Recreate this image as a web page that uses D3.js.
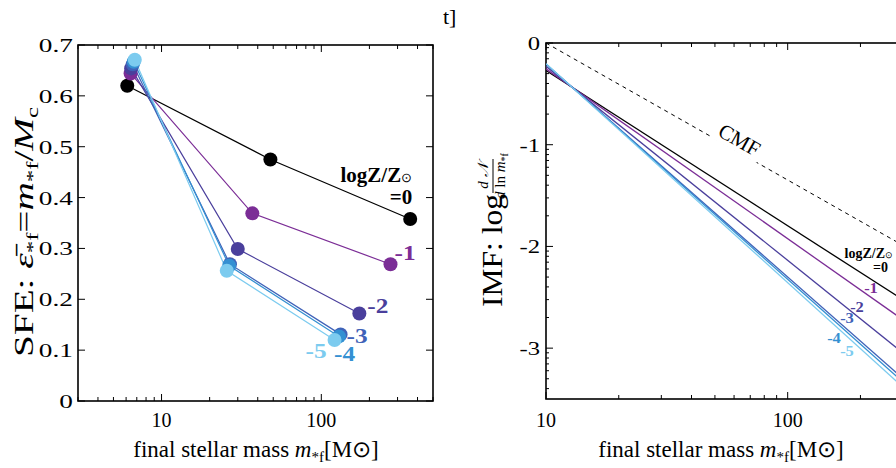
<!DOCTYPE html>
<html><head><meta charset="utf-8">
<script src="https://cdn.jsdelivr.net/npm/d3@7"></script>
<style>
body{margin:0;background:#fff}
text{font-family:"Liberation Serif","Times New Roman",serif;fill:#000}
</style>
</head><body>
<svg id="c" width="896" height="468"></svg>
<script>
// ---------- data ----------
const metallicities = ["0", "-1", "-2", "-3", "-4", "-5"];
const seriesColors = ["#000000", "#7b2d96", "#4a3f9c", "#3f62b8", "#3490d2", "#7ccbef"];
// left panel: final stellar mass [Msun] and star formation efficiency
const sfeMass = [
  [6.1, 48, 360],
  [6.4, 37, 271],
  [6.45, 30, 173],
  [6.6, 26.8, 132],
  [6.7, 26.5, 129],
  [6.8, 25.6, 121]
];
const sfeValue = [
  [0.620, 0.475, 0.358],
  [0.644, 0.369, 0.269],
  [0.654, 0.299, 0.172],
  [0.662, 0.269, 0.131],
  [0.667, 0.266, 0.127],
  [0.671, 0.256, 0.120]
];
// right panel: IMF log(dN/dln m) at the two ends of the mass range
const imfMass = [10, 300];
const imfValue = [
  [-0.270, -2.525],
  [-0.254, -2.721],
  [-0.229, -3.047],
  [-0.209, -3.299],
  [-0.206, -3.333],
  [-0.203, -3.384]
];
const cmfValue = [0, -1.99];
const sfeTicks = [0, 0.1, 0.2, 0.3, 0.4, 0.5, 0.6, 0.7];
const sfeTickLabels = ["0", "0.1", "0.2", "0.3", "0.4", "0.5", "0.6", "0.7"];
const imfTicks = [0, -1, -2, -3];
const imfTickLabels = ["0", "-1", "-2", "-3"];
const massTicks = [10, 100];
const massTickLabels = ["10", "100"];

// ---------- setup ----------
const svg = d3.select("#c");
const L = {x0: 78, x1: 433, y0: 45, y1: 401};
const R = {x0: 546, x1: 903, y0: 43, y1: 399};

const xL = d3.scaleLog().domain([3, 500]).range([L.x0, L.x1]);
const yL = d3.scaleLinear().domain([0, 0.7]).range([L.y1, L.y0]);
const xR = d3.scaleLog().domain([10, 300]).range([R.x0, R.x1]);
const yR = d3.scaleLinear().domain([-3.5, 0]).range([R.y1, R.y0]);

function minorLog(domain) {
  const out = [];
  for (let e = -2; e < 4; e++) for (let k = 1; k < 10; k++) {
    const v = k * Math.pow(10, e);
    if (v >= domain[0] - 1e-9 && v <= domain[1] + 1e-9) out.push(v);
  }
  return out;
}

function frame(P, xs, ys, xMajor, xMinor, yMajor, yMinor) {
  const g = svg.append("g");
  const xt = [...xMinor.map(v => [v, 4]), ...xMajor.map(v => [v, 7])];
  xt.forEach(([v, len]) => {
    const x = xs(v);
    g.append("line").attr("x1", x).attr("x2", x).attr("y1", P.y1).attr("y2", P.y1 - len)
      .attr("stroke", "#000").attr("stroke-width", 1);
    g.append("line").attr("x1", x).attr("x2", x).attr("y1", P.y0).attr("y2", P.y0 + len)
      .attr("stroke", "#000").attr("stroke-width", 1);
  });
  const yt = [...yMinor.map(v => [v, 3]), ...yMajor.map(v => [v, 7])];
  yt.forEach(([v, len]) => {
    const y = ys(v);
    g.append("line").attr("x1", P.x0).attr("x2", P.x0 + len).attr("y1", y).attr("y2", y)
      .attr("stroke", "#000").attr("stroke-width", 1);
    g.append("line").attr("x1", P.x1).attr("x2", P.x1 - len).attr("y1", y).attr("y2", y)
      .attr("stroke", "#000").attr("stroke-width", 1);
  });
  g.append("rect").attr("x", P.x0).attr("y", P.y0).attr("width", P.x1 - P.x0).attr("height", P.y1 - P.y0)
    .attr("fill", "none").attr("stroke", "#000").attr("stroke-width", 1.6);
}

function wideLabel(x, y, txt, size, sx) {
  svg.append("text").attr("transform", `translate(${x},${y}) scale(${sx},1)`)
    .attr("text-anchor", "end").attr("font-size", size).text(txt);
}

// rotated title whose on-screen extent (bottom..top) is fitted by measuring the rendered box
function rotatedTitle(cx, yBottom, yTop, build) {
  const g = svg.append("g");
  const t = g.append("text").attr("text-anchor", "start");
  build(t);
  let s = 1;
  const apply = () => g.attr("transform", `translate(${cx},${yBottom}) rotate(-90) scale(${s},1)`);
  for (let k = 0; k < 3; k++) {
    apply();
    const r = g.node().getBoundingClientRect();
    const h = r.height;
    s *= (yBottom - yTop) / h;
    apply();
    const r2 = g.node().getBoundingClientRect();
    // shift so bottom edge lands at yBottom
    const off = r2.bottom - yBottom;
    g.attr("transform", `translate(${cx},${yBottom - off}) rotate(-90) scale(${s},1)`);
    if (k === 2) break;
  }
  return g;
}

// ---------- left panel ----------
const xLMinor = minorLog([3, 500]).filter(v => v !== 10 && v !== 100);
frame(L, xL, yL, massTicks, xLMinor, sfeTicks, []);

sfeTicks.forEach((v, i) => wideLabel(L.x0 - 5, yL(v) + 7, sfeTickLabels[i], 19.5, 1.4));
massTicks.forEach((v, i) => {
  svg.append("text").attr("x", xL(v)).attr("y", 427).attr("text-anchor", "middle")
    .attr("font-size", 20).text(massTickLabels[i]);
});

const lineGen = (xs, ys) => d3.line().x(d => xs(d[0])).y(d => ys(d[1]));
metallicities.forEach((z, i) => {
  const pts = sfeMass[i].map((m, j) => [m, sfeValue[i][j]]);
  svg.append("path").datum(pts).attr("d", lineGen(xL, yL)).attr("fill", "none")
    .attr("stroke", seriesColors[i]).attr("stroke-width", 1.2);
});
metallicities.forEach((z, i) => {
  sfeMass[i].forEach((m, j) => {
    svg.append("circle").attr("cx", xL(m)).attr("cy", yL(sfeValue[i][j])).attr("r", 7)
      .attr("fill", seriesColors[i]);
  });
});

function lastPt(i) { return [xL(sfeMass[i][2]), yL(sfeValue[i][2])]; }
{
  const [x0, y0] = lastPt(0);
  const t = svg.append("text").attr("x", x0 + 2).attr("y", y0 - 37).attr("text-anchor", "end")
    .attr("font-size", 21).attr("font-weight", "bold");
  t.append("tspan").text("logZ/Z");
  t.append("tspan").attr("font-size", 13).attr("font-weight", "normal").text("⊙");
  svg.append("text").attr("x", x0 + 2).attr("y", y0 - 15).attr("text-anchor", "end")
    .attr("font-size", 21).attr("font-weight", "bold").text("=0");
}
const leftLabelOffsets = [null, [4, -4, "start"], [8, -1, "start"], [6, 9, "start"], [-5, 25, "start"], [-8, 18, "end"]];
metallicities.forEach((z, i) => {
  if (i === 0) return;
  const [x0, y0] = lastPt(i);
  const o = leftLabelOffsets[i];
  svg.append("text").attr("transform", `translate(${x0 + o[0]},${y0 + o[1]}) scale(1.15,1)`)
    .attr("text-anchor", o[2])
    .attr("font-size", 22).attr("font-weight", "bold").style("fill", seriesColors[i]).text(z);
});

// left y title
rotatedTitle(33, 357, 107, t => {
  t.attr("font-size", 27);
  t.append("tspan").text("SFE: ");
  t.append("tspan").attr("font-style", "italic").text("ε\u0304");
  t.append("tspan").attr("font-size", 17).attr("dy", 5).text("*f");
  t.append("tspan").attr("dy", -5).text("=");
  t.append("tspan").attr("font-style", "italic").text("m");
  t.append("tspan").attr("font-size", 17).attr("dy", 5).text("*f");
  t.append("tspan").attr("dy", -5).text("/");
  t.append("tspan").attr("font-style", "italic").text("M");
  t.append("tspan").attr("font-size", 17).attr("dy", 5).text("c");
});

function massTitle(cx) {
  const t = svg.append("text").attr("x", cx).attr("y", 457).attr("text-anchor", "middle").attr("font-size", 23);
  t.append("tspan").text("final stellar mass ");
  t.append("tspan").attr("font-style", "italic").text("m");
  t.append("tspan").attr("font-size", 15).attr("dy", 5).text("*f");
  t.append("tspan").attr("dy", -5).text("[M⊙]");
}
massTitle(256);

// ---------- right panel ----------
svg.append("defs").append("clipPath").attr("id", "clipR").append("rect")
  .attr("x", R.x0).attr("y", R.y0).attr("width", R.x1 - R.x0).attr("height", R.y1 - R.y0);

const xRMinor = minorLog([10, 300]).filter(v => v !== 10 && v !== 100);
const yRMinor = [];
for (let d = -4; d < 0; d++) for (let k = 2; k < 10; k++) {
  const v = d + Math.log10(k);
  if (v >= -3.5 && v <= 0) yRMinor.push(v);
}
frame(R, xR, yR, massTicks, xRMinor, imfTicks, yRMinor);

imfTicks.forEach((v, i) => wideLabel(R.x0 - 6, yR(v) + 7, imfTickLabels[i], 19, 1.3));
massTicks.forEach((v, i) => {
  svg.append("text").attr("x", xR(v)).attr("y", 427).attr("text-anchor", "middle")
    .attr("font-size", 20).text(massTickLabels[i]);
});

function cmfYAt(px) {
  const lm = Math.log10(xR.invert(px));
  const l0 = Math.log10(imfMass[0]), l1 = Math.log10(imfMass[1]);
  return yR(cmfValue[0] + (cmfValue[1] - cmfValue[0]) * (lm - l0) / (l1 - l0));
}
const gR = svg.append("g").attr("clip-path", "url(#clipR)");
gR.append("path").datum(imfMass.map((m, j) => [m, cmfValue[j]])).attr("d", lineGen(xR, yR))
  .attr("fill", "none").attr("stroke", "#000").attr("stroke-width", 1).attr("stroke-dasharray", "4,4");
metallicities.forEach((z, i) => {
  gR.append("path").datum(imfMass.map((m, j) => [m, imfValue[i][j]])).attr("d", lineGen(xR, yR))
    .attr("fill", "none").attr("stroke", seriesColors[i]).attr("stroke-width", 1.3);
});

function imfYAt(i, px) {
  const lm = Math.log10(xR.invert(px));
  const l0 = Math.log10(imfMass[0]), l1 = Math.log10(imfMass[1]);
  const v = imfValue[i][0] + (imfValue[i][1] - imfValue[i][0]) * (lm - l0) / (l1 - l0);
  return yR(v);
}
// CMF label along the dashed line (line knocked out behind it)
{
  const px = 734;
  const py = cmfYAt(px);
  const ang = Math.atan2(yR(cmfValue[1]) - yR(cmfValue[0]), xR(imfMass[1]) - xR(imfMass[0])) * 180 / Math.PI;
  const g = svg.append("g").attr("transform", `translate(${px},${py}) rotate(${ang})`);
  g.append("rect").attr("x", -26).attr("y", -20).attr("width", 52).attr("height", 21).attr("fill", "#fff");
  g.append("text").attr("y", -4).attr("text-anchor", "middle").attr("font-size", 21).text("CMF");
}
// right labels
{
  const t = svg.append("text").attr("x", 893).attr("y", 258).attr("text-anchor", "end")
    .attr("font-size", 14).attr("font-weight", "bold");
  t.append("tspan").text("logZ/Z");
  t.append("tspan").attr("font-size", 9).attr("font-weight", "normal").text("⊙");
  svg.append("text").attr("x", 888).attr("y", 272).attr("text-anchor", "end")
    .attr("font-size", 14).attr("font-weight", "bold").text("=0");
}
const rightLabelPos = [null, [871, -4], [857, -4], [847, -6], [834, 22], [847, 20]];
metallicities.forEach((z, i) => {
  if (i === 0) return;
  const [px, dy] = rightLabelPos[i];
  svg.append("text").attr("transform", `translate(${px},${imfYAt(i, px) + dy}) scale(1.1,1)`)
    .attr("text-anchor", "middle")
    .attr("font-size", 15).attr("font-weight", "bold").style("fill", seriesColors[i]).text(z);
});

// right y title: "IMF: log" + fraction dN / d ln m*f
{
  rotatedTitle(502, 307, 194, t => { t.attr("font-size", 29).text("IMF: log"); });
  const g = svg.append("g").attr("transform", "translate(502,233) rotate(-90)");
  g.append("text").attr("x", 57).attr("y", -14).attr("text-anchor", "middle").attr("font-size", 15)
    .attr("font-style", "italic").text("d 𝒩");
  const den = g.append("text").attr("x", 57).attr("y", 3).attr("text-anchor", "middle").attr("font-size", 15);
  den.append("tspan").attr("font-style", "italic").text("d");
  den.append("tspan").text(" ln ");
  den.append("tspan").attr("font-style", "italic").text("m");
  den.append("tspan").attr("font-size", 10).attr("dy", 3).text("*f");
  g.append("line").attr("x1", 40).attr("x2", 74).attr("y1", -9).attr("y2", -9).attr("stroke", "#000").attr("stroke-width", 1);
}
massTitle(721);

// stray fragment at top
svg.append("text").attr("x", 443).attr("y", 24).attr("font-size", 22).text("t]");
</script>
</body></html>
